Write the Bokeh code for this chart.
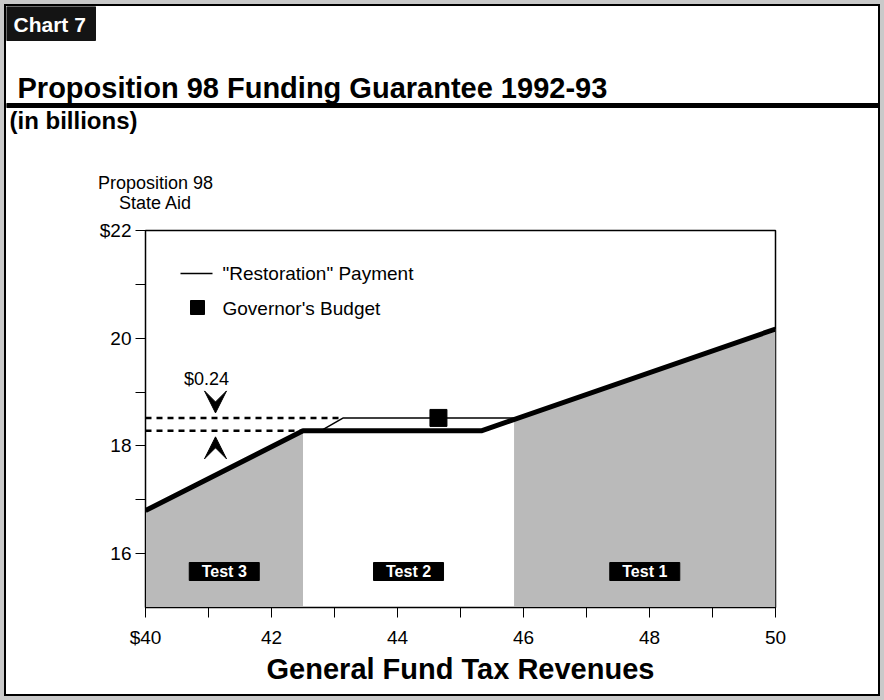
from bokeh.plotting import figure
from bokeh.layouts import column
from bokeh.models import Label, Arrow, VeeHead, FixedTicker
from bokeh.core.properties import value
from bokeh.embed import file_html
from bokeh.resources import INLINE

# ---------------- data (billions of dollars) ----------------
x_ticks = [40, 41, 42, 43, 44, 45, 46, 47, 48, 49, 50]
x_tick_labels = {40: "$40", 41: "", 42: "42", 43: "", 44: "44", 45: "", 46: "46",
                 47: "", 48: "48", 49: "", 50: "50"}
y_ticks = [16, 17, 18, 19, 20, 21, 22]
y_tick_labels = {16: "16", 17: "", 18: "18", 19: "", 20: "20", 21: "", 22: "$22"}

# Proposition 98 guarantee (thick line)
guarantee_x = [40.0, 42.5, 45.33, 50.0]
guarantee_y = [16.8, 18.28, 18.28, 20.17]

# "Restoration" payment (thin line)
restoration_x = [42.78, 43.14, 45.85]
restoration_y = [18.28, 18.52, 18.52]

# Governor's Budget
governor_x = [44.65]
governor_y = [18.52]

# Test regions
test_bounds = [40.0, 42.5, 45.85, 50.0]
test_labels = ["Test 3", "Test 2", "Test 1"]
test3_x = [40.0, 42.5]
test3_top = [16.8, 18.28]
test1_x = [45.85, 50.0]
test1_top = [18.52, 20.17]

guarantee_level = 18.28
restoration_level = 18.52

# ---------------- layout (page pixels) ----------------
W, H = 884, 700
PAD = 6                      # grey band + black frame around the page
IW = W - 2 * PAD             # inner width
HEAD_H = 206                 # header strip height
CH = H - 2 * PAD - HEAD_H    # chart figure height
FL, FR, FT, FB = 145, 775, 230, 607   # plot frame in page pixels
X0, X1, Y0, Y1 = 40, 50, 15, 22
FONT = "Liberation Sans"


def dx(px):
    return X0 + (px - FL) * (X1 - X0) / (FR - FL)


def dy(py):
    return Y1 - (py - FT) * (Y1 - Y0) / (FB - FT)


# ---------------- header ----------------
head = figure(width=IW, height=HEAD_H, x_range=(PAD, PAD + IW), y_range=(PAD + HEAD_H, PAD),
              output_backend="svg", toolbar_location=None,
              x_axis_location=None, y_axis_location=None, min_border=0)
head.frame_align = False
head.outline_line_color = None
head.grid.visible = False
head.background_fill_color = "white"
head.border_fill_color = "white"

head.quad(left=[PAD], right=[95], top=[PAD], bottom=[40], fill_color="#141414",
          line_color="#141414")
head.text(x=[13], y=[24], text=["Chart 7"], text_color="white", text_font=value(FONT),
          text_font_style="bold", text_font_size="21px", text_baseline="middle",
          text_align="left")
head.text(x=[17], y=[87], text=["Proposition 98 Funding Guarantee 1992-93"],
          text_color="black", text_font=value(FONT), text_font_style="bold",
          text_font_size="29px", text_baseline="middle", text_align="left")
head.quad(left=[PAD], right=[PAD + IW], top=[103], bottom=[107], fill_color="black",
          line_color="black")
head.text(x=[9], y=[120], text=["(in billions)"], text_color="black",
          text_font=value(FONT), text_font_style="bold", text_font_size="24px",
          text_baseline="middle", text_align="left")
head.text(x=[155, 155], y=[182, 202], text=["Proposition 98", "State Aid"],
          text_color="black", text_font=value(FONT), text_font_size="18px",
          text_baseline="middle", text_align="center")

# ---------------- chart ----------------
p = figure(width=IW, height=CH, x_range=(X0, X1), y_range=(Y0, Y1),
           output_backend="svg", toolbar_location=None,
           min_border_left=FL - PAD, min_border_right=PAD + IW - FR,
           min_border_top=FT - PAD - HEAD_H, min_border_bottom=H - PAD - FB)
p.frame_align = False
p.border_fill_color = "white"
p.background_fill_color = "white"
p.outline_line_color = "black"
p.outline_line_width = 1.5
p.grid.visible = False

SHADE = "#bababa"
p.varea(x=test3_x, y1=[Y0] * len(test3_x), y2=test3_top, fill_color=SHADE)
p.varea(x=test1_x, y1=[Y0] * len(test1_x), y2=test1_top, fill_color=SHADE)

# dashed reference lines
p.segment(x0=[X0, X0], y0=[restoration_level, guarantee_level],
          x1=[restoration_x[1], guarantee_x[1]], y1=[restoration_level, guarantee_level],
          line_color="black", line_width=2.5, line_dash="6 5")

p.line(restoration_x, restoration_y, line_color="black", line_width=1.5)
p.line(guarantee_x, guarantee_y, line_color="black", line_width=5, line_join="round")
p.scatter(governor_x, governor_y, marker="square", size=17, fill_color="black",
          line_color="black")

# Test labels
centers = [(test_bounds[i] + test_bounds[i + 1]) / 2 for i in range(3)]
p.rect(x=centers, y=[dy(571)] * 3, width=70, height=18, width_units="screen",
       height_units="screen", fill_color="black", line_color="black")
p.text(x=centers, y=[dy(571)] * 3, text=test_labels, text_color="white",
       text_font=value(FONT), text_font_style="bold", text_font_size="16px",
       text_align="center", text_baseline="middle")

# difference annotation
diff_x = dx(215)
p.add_layout(Arrow(x_start=diff_x, y_start=restoration_level + 1.0, x_end=diff_x,
                   y_end=restoration_level + 5 / 53.86,
                   end=VeeHead(size=22, fill_color="black", line_color="black"),
                   line_alpha=0))
p.add_layout(Arrow(x_start=diff_x, y_start=guarantee_level - 1.0, x_end=diff_x,
                   y_end=guarantee_level - 6 / 53.86,
                   end=VeeHead(size=22, fill_color="black", line_color="black"),
                   line_alpha=0))
p.add_layout(Label(x=dx(206), y=dy(378),
                   text="${:.2f}".format(restoration_level - guarantee_level),
                   text_color="black", text_font=FONT, text_font_size="18px",
                   text_baseline="middle", text_align="center"))

# legend (manual)
p.line([dx(180), dx(212)], [dy(273), dy(273)], line_color="black", line_width=1.5)
p.add_layout(Label(x=dx(222), y=dy(273), text='"Restoration" Payment', text_color="black",
                   text_font=FONT, text_font_size="19px", text_baseline="middle",
                   text_align="left"))
p.scatter([dx(197)], [dy(307)], marker="square", size=14, fill_color="black",
          line_color="black")
p.add_layout(Label(x=dx(222), y=dy(308), text="Governor's Budget", text_color="black",
                   text_font=FONT, text_font_size="19px", text_baseline="middle",
                   text_align="left"))

# axes
for ax in (p.xaxis[0], p.yaxis[0]):
    ax.axis_line_color = "black"
    ax.major_tick_line_color = "black"
    ax.major_tick_out = 10
    ax.major_tick_in = 0
    ax.minor_tick_line_color = None
    ax.major_label_text_font = FONT
    ax.major_label_text_font_size = "19px"
    ax.major_label_text_color = "black"

p.xaxis.ticker = FixedTicker(ticks=x_ticks)
p.xaxis.major_label_overrides = x_tick_labels
p.xaxis.major_label_standoff = 9
p.xaxis.axis_label = "General Fund Tax Revenues"
p.xaxis.axis_label_text_font = FONT
p.xaxis.axis_label_text_font_style = "bold"
p.xaxis.axis_label_text_font_size = "29px"
p.xaxis.axis_label_text_color = "black"
p.xaxis.axis_label_standoff = 2

p.yaxis.ticker = FixedTicker(ticks=y_ticks)
p.yaxis.major_label_overrides = y_tick_labels
p.yaxis.major_label_standoff = 4

page = column(head, p, margin=(PAD, PAD, PAD, PAD), spacing=0,
              styles={"background-color": "white",
                      "box-shadow": "0 0 0 2px black, 0 0 0 6px #c9c9c9"})

open("out.html", "w").write(file_html(page, INLINE))
